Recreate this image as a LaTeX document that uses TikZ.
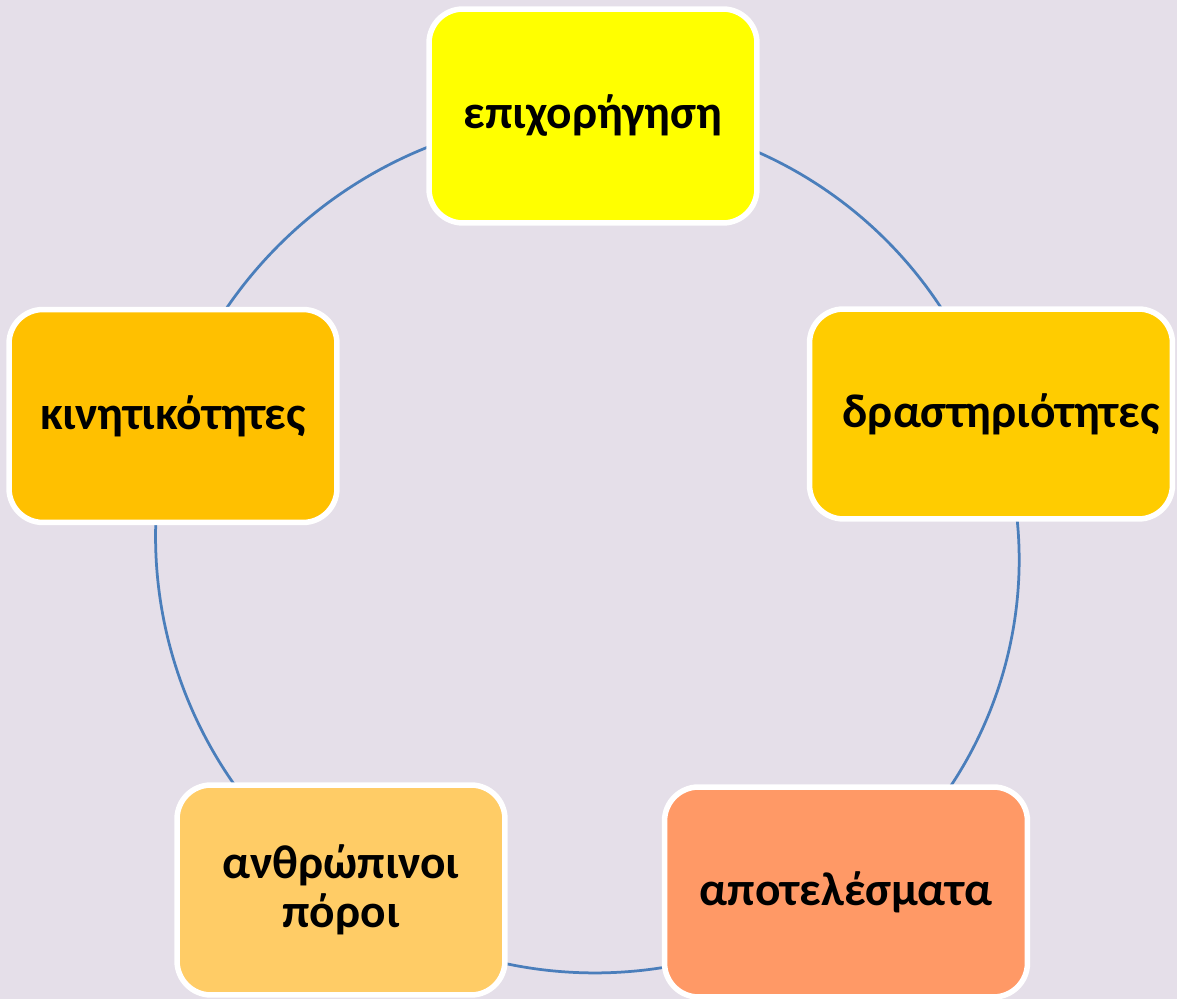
\documentclass[tikz,border=0pt]{standalone}
\usepackage{fontspec}
\setmainfont{Carlito}
\pgfdeclarelayer{bg}
\pgfdeclarelayer{ring}
\pgfsetlayers{bg,ring,main}
\definecolor{paper}{RGB}{229,223,233}
\definecolor{ringblue}{RGB}{74,126,187}
\definecolor{lemon}{RGB}{255,255,0}
\definecolor{gold}{RGB}{255,204,0}
\definecolor{amber}{RGB}{255,192,0}
\definecolor{sand}{RGB}{255,204,102}
\definecolor{salmon}{RGB}{255,153,102}
\tikzset{
  stage/.style={draw=white, line width=0.11cm, rounded corners=0.68cm, minimum width=6.56cm, minimum height=4.2cm,
    inner sep=0pt, align=center, font=\fontsize{27}{28}\selectfont\bfseries},
  wide/.style={minimum width=7.26cm},
  link/.style={ringblue, line width=0.055cm, bend left=36, looseness=0.94}
}
\begin{document}
\begin{tikzpicture}[x=0.02cm, y=-0.02cm]
\useasboundingbox (0,0) rectangle (1177,999);
\begin{pgfonlayer}{bg}
\fill[paper] (0,0) rectangle (1177,999);
\end{pgfonlayer}
\node[stage, fill=lemon, minimum height=4.28cm] (grant) at (593,116) {\raisebox{-0.12cm}{επιχορήγηση}};
\node[stage, wide, fill=gold] (acts) at (991,414) {\hspace{0.4cm}δραστηριότητες};
\node[stage, wide, fill=salmon] (results) at (846,892) {αποτελέσματα};
\node[stage, fill=sand] (people) at (341,890) {ανθρώπινοι\\πόροι};
\node[stage, fill=amber, minimum height=4.26cm] (mobility) at (173,416) {κινητικότητες};
\begin{pgfonlayer}{ring}
\draw[link] (grant.center) to (acts.center);
\draw[link, bend left=39] (acts.center) to (results.center);
\draw[link] (results.center) to (people.center);
\draw[link] (people.center) to (mobility.center);
\draw[link] (mobility.center) to (grant.center);
\end{pgfonlayer}
\end{tikzpicture}
\end{document}
